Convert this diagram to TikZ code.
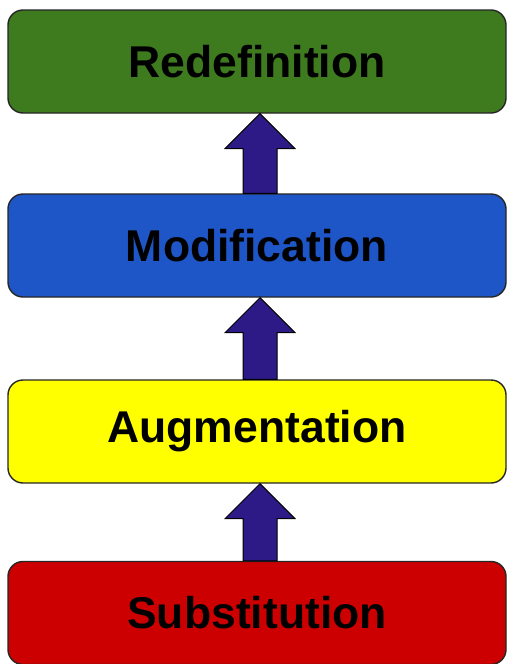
\documentclass[tikz,border=0pt]{standalone}
\usepackage{fontspec}
\setmainfont{Liberation Sans}
\usetikzlibrary{calc}
\definecolor{cgreen}{RGB}{62,122,30}
\definecolor{cblue}{RGB}{30,86,200}
\definecolor{cyellow}{RGB}{255,255,0}
\definecolor{cred}{RGB}{204,0,0}
\definecolor{cpurple}{RGB}{46,26,135}
\begin{document}
\begin{tikzpicture}[x=1pt,y=-1pt,
  level/.style={draw=black!85, line width=1.4pt, rounded corners=15pt, minimum width=498pt, minimum height=103pt, inner sep=0pt, font=\fontsize{44.5}{50}\selectfont\bfseries, text=black},
  uparrow/.style={fill=cpurple, draw=black, line width=1pt, line join=miter}]
\useasboundingbox (0,0) rectangle (507,664);
\fill[white] (0,0) rectangle (507,664);
\node[level, fill=cgreen] (r) at (257,61.5) {Redefinition};
\node[level, fill=cblue] (m) at (257,245.5) {Modification};
\node[level, fill=cyellow] (a) at (257,431.5) {Augmentation};
\node[level, fill=cred] (s) at (257,613) {Substitution};
\foreach \lo/\hi in {m/r, a/m, s/a}{
  \path (\hi.south) ++(3,0) coordinate (tip);
  \path (\lo.north) ++(3,0) coordinate (base);
  \draw[uparrow] (tip) -- ($(tip)+(35,35)$) -- ($(tip)+(17,35)$) -- ($(base)+(17,0)$) -- ($(base)+(-17,0)$) -- ($(tip)+(-17,35)$) -- ($(tip)+(-35,35)$) -- cycle;
}
\end{tikzpicture}
\end{document}
